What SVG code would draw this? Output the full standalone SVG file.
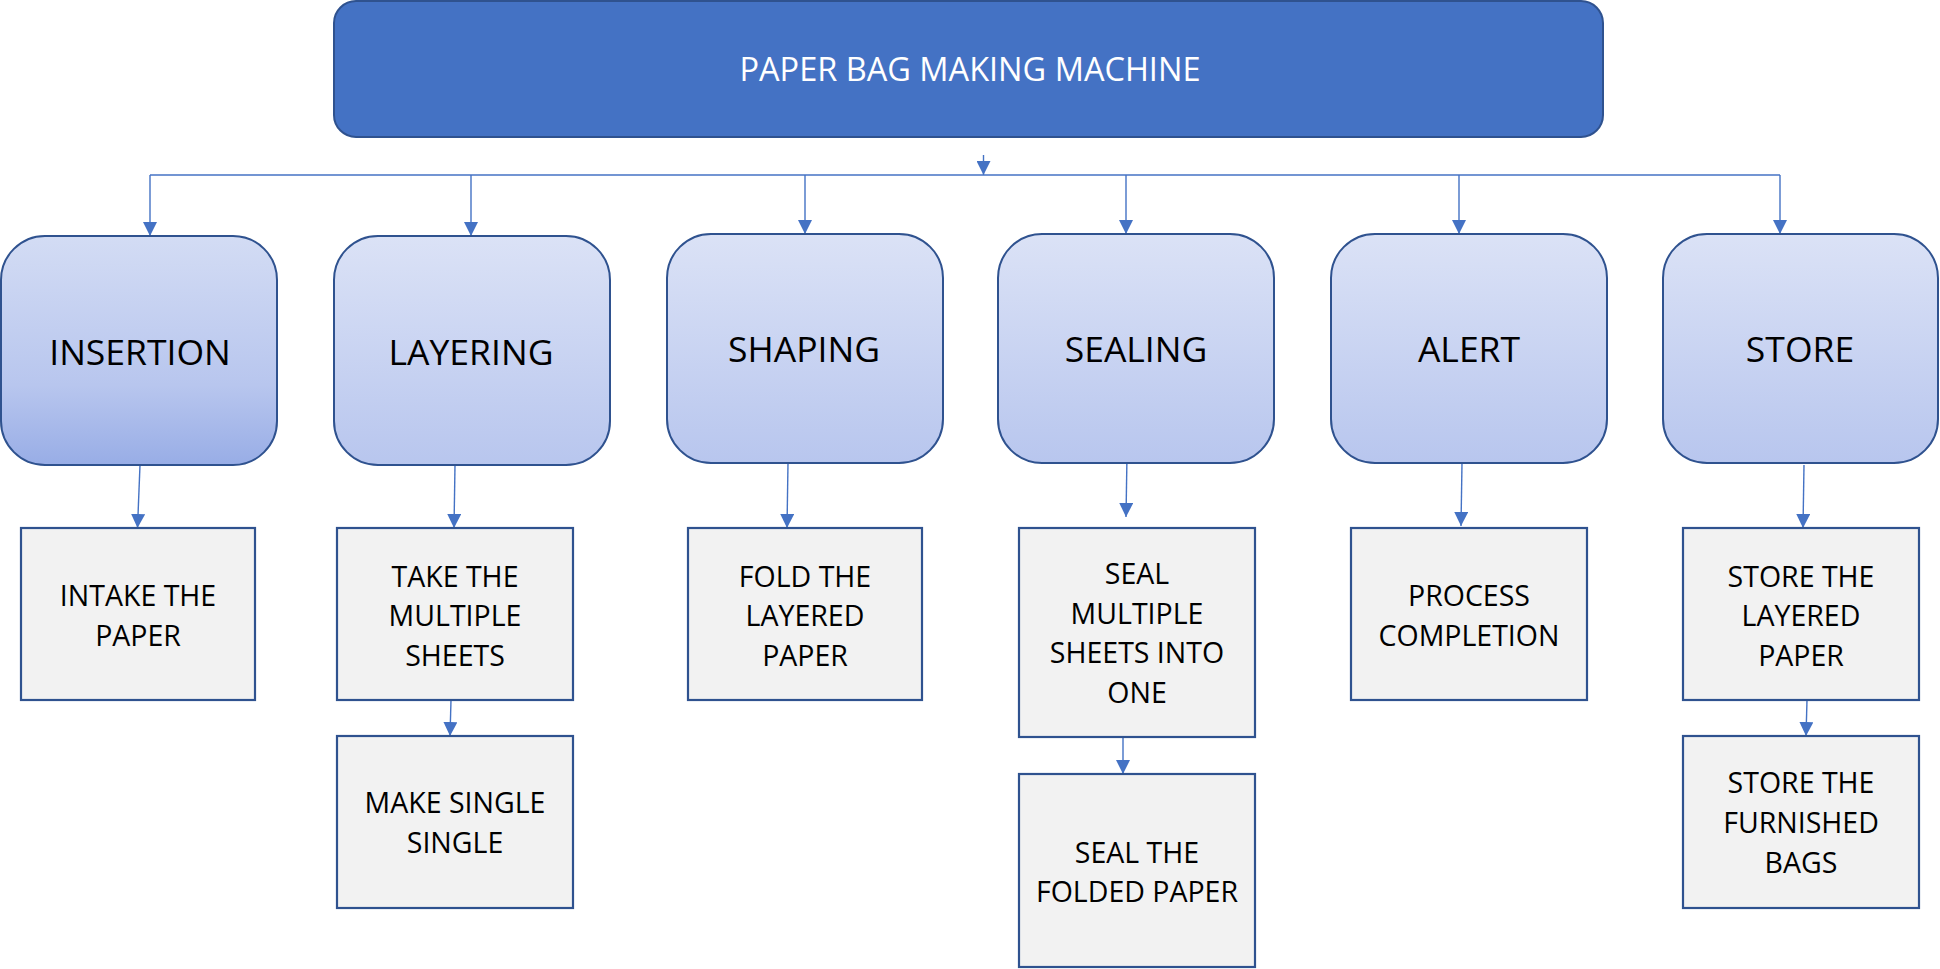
<svg xmlns="http://www.w3.org/2000/svg" width="1940" height="969" viewBox="0 0 1940 969">
<style>
.title{font-family:"Open Sans","Liberation Sans",sans-serif;font-size:32.5px;fill:#ffffff;text-anchor:middle}
.nlabel{font-family:"Open Sans","Liberation Sans",sans-serif;font-size:35.5px;fill:#000000;text-anchor:middle}
.rlabel{font-family:"Open Sans","Liberation Sans",sans-serif;font-size:28.5px;fill:#000000;text-anchor:middle}
.node{stroke:#2f528f;stroke-width:2}
.box{fill:#f2f2f2;stroke:#2f528f;stroke-width:2.2}
.conn{stroke:#4472c4;stroke-width:1.4;fill:none}
.arr{stroke:#4472c4;stroke-width:1.4;fill:none;marker-end:url(#ah)}
</style>
<defs>
<marker id="ah" markerUnits="userSpaceOnUse" markerWidth="14" markerHeight="14" viewBox="0 0 12 12" refX="12" refY="6" orient="auto">
<path d="M0,0 L12,6 L0,12 Z" fill="#4472c4"/>
</marker>
<linearGradient id="gA" x1="0" y1="0" x2="0" y2="1">
<stop offset="0" stop-color="#d3dcf4"/>
<stop offset="0.65" stop-color="#b8c6ee"/>
<stop offset="1" stop-color="#98ade6"/>
</linearGradient>
<linearGradient id="gB" x1="0" y1="0" x2="0" y2="1">
<stop offset="0" stop-color="#dbe2f6"/>
<stop offset="1" stop-color="#b8c6ee"/>
</linearGradient>
</defs>
<rect width="1940" height="969" fill="#ffffff"/>

<g id="connectors">
<path class="conn" d="M150,175 H1780"/>
<path class="arr" d="M983.5,155 V175"/>
<path class="arr" d="M150,175 V236"/>
<path class="arr" d="M471,175 V236"/>
<path class="arr" d="M805,175 V234"/>
<path class="arr" d="M1126,175 V234"/>
<path class="arr" d="M1459,175 V234"/>
<path class="arr" d="M1780,175 V234"/>
<path class="arr" d="M140,465 L137.5,528"/>
<path class="arr" d="M455,465 L454,528"/>
<path class="arr" d="M788,463 L787,528"/>
<path class="arr" d="M1127,455 L1126,517"/>
<path class="arr" d="M1462,463 L1461,526"/>
<path class="arr" d="M1804,465 L1803,528"/>
<path class="arr" d="M451,700 L450,736"/>
<path class="arr" d="M1123,737 L1123,774"/>
<path class="arr" d="M1807,700 L1806,736"/>
</g>

<g id="title">
<rect x="334" y="1" width="1269" height="136" rx="22" fill="#4472c4" stroke="#2f528f" stroke-width="2"/>
<text class="title" x="970" y="81">PAPER BAG MAKING MACHINE</text>
</g>

<g id="insertion">
<rect class="node" x="1" y="236" width="276" height="229" rx="44" fill="url(#gA)"/>
<text class="nlabel" x="140" y="365">INSERTION</text>
</g>
<g id="layering">
<rect class="node" x="334" y="236" width="276" height="229" rx="44" fill="url(#gB)"/>
<text class="nlabel" x="471" y="365">LAYERING</text>
</g>
<g id="shaping">
<rect class="node" x="667" y="234" width="276" height="229" rx="44" fill="url(#gB)"/>
<text class="nlabel" x="804" y="362">SHAPING</text>
</g>
<g id="sealing">
<rect class="node" x="998" y="234" width="276" height="229" rx="44" fill="url(#gB)"/>
<text class="nlabel" x="1136" y="362">SEALING</text>
</g>
<g id="alert">
<rect class="node" x="1331" y="234" width="276" height="229" rx="44" fill="url(#gB)"/>
<text class="nlabel" x="1469" y="362">ALERT</text>
</g>
<g id="store">
<rect class="node" x="1663" y="234" width="275" height="229" rx="44" fill="url(#gB)"/>
<text class="nlabel" x="1800" y="362">STORE</text>
</g>

<g id="intake">
<rect class="box" x="21" y="528" width="234" height="172"/>
<text class="rlabel" x="138" y="606">INTAKE THE</text>
<text class="rlabel" x="138" y="646">PAPER</text>
</g>
<g id="take-multiple">
<rect class="box" x="337" y="528" width="236" height="172"/>
<text class="rlabel" x="455" y="587">TAKE THE</text>
<text class="rlabel" x="455" y="626">MULTIPLE</text>
<text class="rlabel" x="455" y="666">SHEETS</text>
</g>
<g id="make-single">
<rect class="box" x="337" y="736" width="236" height="172"/>
<text class="rlabel" x="455" y="813">MAKE SINGLE</text>
<text class="rlabel" x="455" y="853">SINGLE</text>
</g>
<g id="fold">
<rect class="box" x="688" y="528" width="234" height="172"/>
<text class="rlabel" x="805" y="587">FOLD THE</text>
<text class="rlabel" x="805" y="626">LAYERED</text>
<text class="rlabel" x="805" y="666">PAPER</text>
</g>
<g id="seal-multiple">
<rect class="box" x="1019" y="528" width="236" height="209"/>
<text class="rlabel" x="1137" y="584">SEAL</text>
<text class="rlabel" x="1137" y="624">MULTIPLE</text>
<text class="rlabel" x="1137" y="663">SHEETS INTO</text>
<text class="rlabel" x="1137" y="703">ONE</text>
</g>
<g id="seal-folded">
<rect class="box" x="1019" y="774" width="236" height="193"/>
<text class="rlabel" x="1137" y="863">SEAL THE</text>
<text class="rlabel" x="1137" y="902">FOLDED PAPER</text>
</g>
<g id="process-completion">
<rect class="box" x="1351" y="528" width="236" height="172"/>
<text class="rlabel" x="1469" y="606">PROCESS</text>
<text class="rlabel" x="1469" y="646">COMPLETION</text>
</g>
<g id="store-layered">
<rect class="box" x="1683" y="528" width="236" height="172"/>
<text class="rlabel" x="1801" y="587">STORE THE</text>
<text class="rlabel" x="1801" y="626">LAYERED</text>
<text class="rlabel" x="1801" y="666">PAPER</text>
</g>
<g id="store-furnished">
<rect class="box" x="1683" y="736" width="236" height="172"/>
<text class="rlabel" x="1801" y="793">STORE THE</text>
<text class="rlabel" x="1801" y="833">FURNISHED</text>
<text class="rlabel" x="1801" y="873">BAGS</text>
</g>
</svg>
